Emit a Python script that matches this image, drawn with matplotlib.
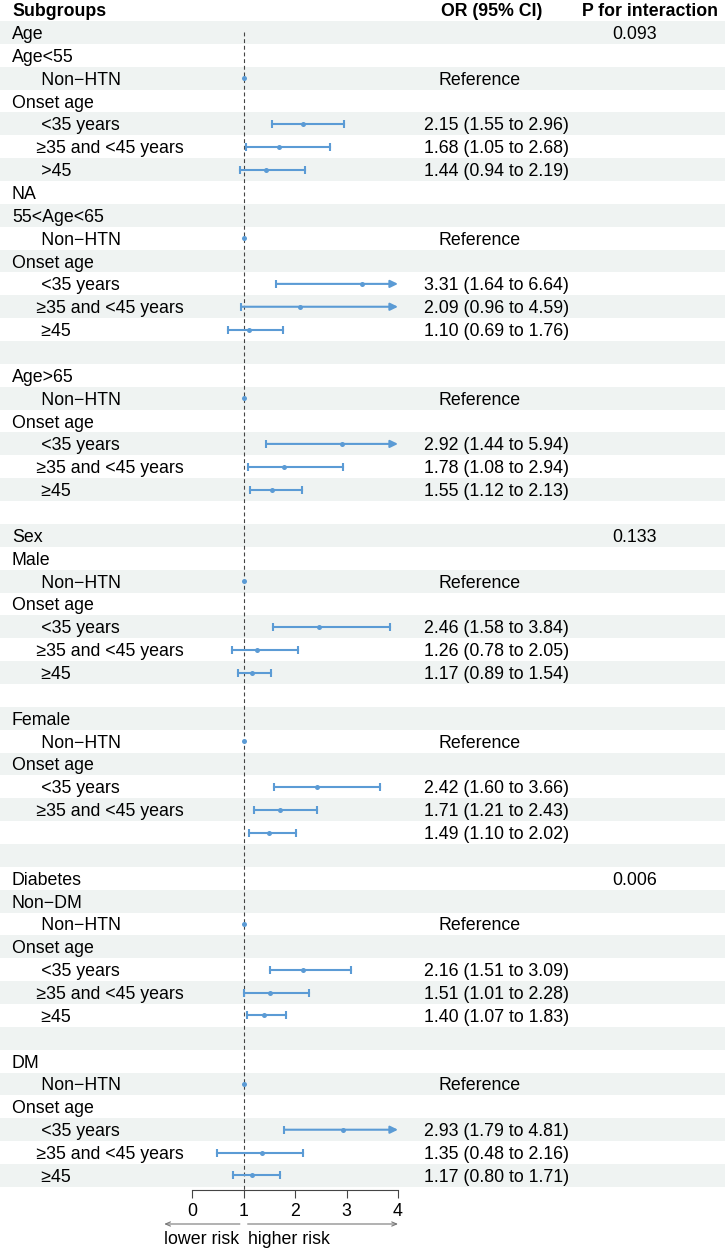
import numpy as np
import matplotlib
matplotlib.use("Agg")
import matplotlib.pyplot as plt

plt.rcParams['font.family'] = ['Liberation Sans', 'DejaVu Sans']

# table rows, top to bottom (leading spaces = indentation, as in the source table)
labels = [
    "Age", "Age<55", "      Non−HTN", "Onset age", "      <35 years",
    "     ≥35 and <45 years", "      >45", "NA",
    "55<Age<65", "      Non−HTN", "Onset age", "      <35 years",
    "     ≥35 and <45 years", "      ≥45", "",
    "Age>65", "      Non−HTN", "Onset age", "      <35 years",
    "     ≥35 and <45 years", "      ≥45", "",
    "Sex", "Male", "      Non−HTN", "Onset age", "      <35 years",
    "     ≥35 and <45 years", "      ≥45", "",
    "Female", "      Non−HTN", "Onset age", "      <35 years",
    "     ≥35 and <45 years", "", "",
    "Diabetes", "Non−DM", "      Non−HTN", "Onset age", "      <35 years",
    "     ≥35 and <45 years", "      ≥45", "",
    "DM", "      Non−HTN", "Onset age", "      <35 years",
    "     ≥35 and <45 years", "      ≥45",
]
nan = np.nan
# OR, lower, upper (reference rows: OR = 1 without interval)
or_est = [nan, nan, 1, nan, 2.15, 1.68, 1.44, nan,
          nan, 1, nan, 3.31, 2.09, 1.10, nan,
          nan, 1, nan, 2.92, 1.78, 1.55, nan,
          nan, nan, 1, nan, 2.46, 1.26, 1.17, nan,
          nan, 1, nan, 2.42, 1.71, 1.49, nan,
          nan, nan, 1, nan, 2.16, 1.51, 1.40, nan,
          nan, 1, nan, 2.93, 1.35, 1.17]
or_lo = [nan, nan, nan, nan, 1.55, 1.05, 0.94, nan,
         nan, nan, nan, 1.64, 0.96, 0.69, nan,
         nan, nan, nan, 1.44, 1.08, 1.12, nan,
         nan, nan, nan, nan, 1.58, 0.78, 0.89, nan,
         nan, nan, nan, 1.60, 1.21, 1.10, nan,
         nan, nan, nan, nan, 1.51, 1.01, 1.07, nan,
         nan, nan, nan, 1.79, 0.48, 0.80]
or_hi = [nan, nan, nan, nan, 2.96, 2.68, 2.19, nan,
         nan, nan, nan, 6.64, 4.59, 1.76, nan,
         nan, nan, nan, 5.94, 2.94, 2.13, nan,
         nan, nan, nan, nan, 3.84, 2.05, 1.54, nan,
         nan, nan, nan, 3.66, 2.43, 2.02, nan,
         nan, nan, nan, nan, 3.09, 2.28, 1.83, nan,
         nan, nan, nan, 4.81, 2.16, 1.71]
p_interaction = {0: "0.093", 22: "0.133", 37: "0.006"}
x_ticks = [0, 1, 2, 3, 4]

n_rows = len(labels)
W, H = 725, 1249
top_px, row_h = 21, 22.86
axis_px = 1190
fs = 12.8
shade = "#EFF3F2"
ci_col = "#5B9BD5"

fig = plt.figure(figsize=(W / 100, H / 100), dpi=100)

# background / table axes: x in pixels, y in row units
ax = fig.add_axes([0, 0, 1, 1])
ax.set_xlim(0, W)
ax.set_ylim((H - top_px) / row_h, -top_px / row_h)
ax.axis("off")

for i in range(n_rows):
    if i % 2 == 0:
        ax.axhspan(i, i + 1, color=shade, lw=0, zorder=0)

# header
ax.text(12, -0.5, "Subgroups", fontsize=fs, fontweight="bold", va="center_baseline")
ax.text(441, -0.5, "OR (95% CI)", fontsize=fs, fontweight="bold", va="center_baseline")
ax.text(582, -0.5, "P for interaction", fontsize=fs, fontweight="bold", va="center_baseline")

for i, lab in enumerate(labels):
    y = i + 0.5
    if lab:
        ax.text(12, y, lab, fontsize=fs, va="center_baseline")
    if not np.isnan(or_est[i]):
        if np.isnan(or_lo[i]):
            ax.text(439, y, "Reference", fontsize=fs, va="center_baseline")
        else:
            ax.text(424, y, f"{or_est[i]:.2f} ({or_lo[i]:.2f} to {or_hi[i]:.2f})",
                    fontsize=fs, va="center_baseline")
    if i in p_interaction:
        ax.text(612, y, p_interaction[i], fontsize=fs, va="center_baseline")

# forest axes
x0, x1 = 192, 398
ax_f = fig.add_axes([x0 / W, (H - axis_px) / H, (x1 - x0) / W, (axis_px - top_px) / H])
ax_f.set_xlim(0, 4)
ax_f.set_ylim((axis_px - top_px) / row_h, 0)
ax_f.patch.set_visible(False)
for s in ["top", "right", "left"]:
    ax_f.spines[s].set_visible(False)
ax_f.spines["bottom"].set_color("#444444")
ax_f.spines["bottom"].set_linewidth(0.8)
ax_f.set_yticks([])
ax_f.set_xticks(x_ticks)
ax_f.tick_params(axis="x", length=6, width=0.8, color="#444444", labelsize=fs, pad=3)

ax_f.vlines(1, 0.5, (axis_px - top_px) / row_h, colors="#444444",
            linestyles=(0, (3.5, 2.5)), lw=0.8, zorder=1)

for i in range(n_rows):
    est = or_est[i]
    if np.isnan(est):
        continue
    y = i + 0.5
    lo, hi = or_lo[i], or_hi[i]
    if not np.isnan(lo):
        if hi > 4:
            ax_f.annotate("", xy=(4, y), xytext=(lo, y),
                          arrowprops=dict(arrowstyle="-|>,head_length=0.45,head_width=0.22",
                                          color=ci_col, lw=1.5, shrinkA=0, shrinkB=0),
                          zorder=3)
            ax_f.plot([lo], [y], marker="|", ms=5.5, mew=1.5, color=ci_col, zorder=3)
        else:
            ax_f.plot([lo, hi], [y, y], color=ci_col, lw=1.5, zorder=3)
            ax_f.plot([lo, hi], [y, y], ls="none", marker="|", ms=5.5, mew=1.5,
                      color=ci_col, zorder=3)
    ax_f.plot([est], [y], marker="o", ms=3.6, color=ci_col, mew=0, zorder=4)

# risk arrows
tr = ax_f.get_xaxis_transform()
arr_y = -(1224 - axis_px) / (axis_px - top_px)
txt_y = -(1238 - axis_px) / (axis_px - top_px)
akw = dict(arrowstyle="->,head_length=0.35,head_width=0.15", color="#777777", lw=0.8,
           shrinkA=0, shrinkB=0)
ax_f.annotate("", xy=(-0.54, arr_y), xytext=(0.93, arr_y), xycoords=tr, textcoords=tr,
              arrowprops=akw, annotation_clip=False)
ax_f.annotate("", xy=(4.0, arr_y), xytext=(1.08, arr_y), xycoords=tr, textcoords=tr,
              arrowprops=akw, annotation_clip=False)
ax_f.text(-0.54, txt_y, "lower risk", transform=tr, fontsize=fs, va="center_baseline",
          ha="left", clip_on=False)
ax_f.text(1.08, txt_y, "higher risk", transform=tr, fontsize=fs, va="center_baseline",
          ha="left", clip_on=False)

fig.savefig("out.png", dpi=100)
